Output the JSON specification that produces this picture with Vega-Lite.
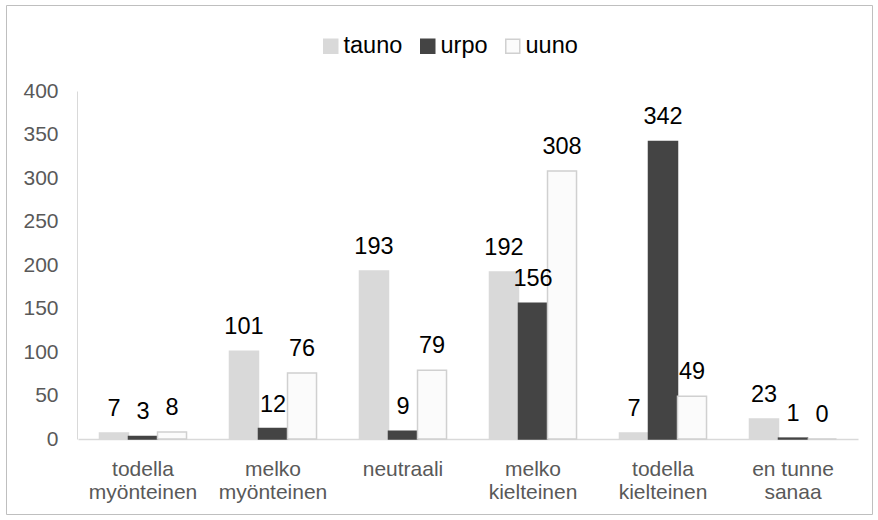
{
  "$schema": "https://vega.github.io/schema/vega-lite/v6.json",
  "width": 866,
  "height": 509,
  "autosize": {"type": "none"},
  "padding": {"left": 6, "top": 5, "right": 6, "bottom": 6},
  "background": "white",
  "config": {
    "font": "Liberation Sans",
    "view": {"stroke": "#bfbfbf", "strokeWidth": 1}
  },
  "data": {
    "values": [
      {"category": "todella myönteinen", "series": "tauno", "value": 7},
      {"category": "todella myönteinen", "series": "urpo", "value": 3},
      {"category": "todella myönteinen", "series": "uuno", "value": 8},
      {"category": "melko myönteinen", "series": "tauno", "value": 101},
      {"category": "melko myönteinen", "series": "urpo", "value": 12},
      {"category": "melko myönteinen", "series": "uuno", "value": 76},
      {"category": "neutraali", "series": "tauno", "value": 193},
      {"category": "neutraali", "series": "urpo", "value": 9},
      {"category": "neutraali", "series": "uuno", "value": 79},
      {"category": "melko kielteinen", "series": "tauno", "value": 192},
      {"category": "melko kielteinen", "series": "urpo", "value": 156},
      {"category": "melko kielteinen", "series": "uuno", "value": 308},
      {"category": "todella kielteinen", "series": "tauno", "value": 7},
      {"category": "todella kielteinen", "series": "urpo", "value": 342},
      {"category": "todella kielteinen", "series": "uuno", "value": 49},
      {"category": "en tunne sanaa", "series": "tauno", "value": 23},
      {"category": "en tunne sanaa", "series": "urpo", "value": 1},
      {"category": "en tunne sanaa", "series": "uuno", "value": 0}
    ]
  },
  "encoding": {
    "x": {
      "field": "category",
      "type": "nominal",
      "sort": ["todella myönteinen", "melko myönteinen", "neutraali", "melko kielteinen", "todella kielteinen", "en tunne sanaa"],
      "scale": {"range": [72, 852], "paddingInner": 0, "paddingOuter": 0},
      "axis": {
        "title": null,
        "orient": "bottom",
        "offset": -75,
        "labelAngle": 0,
        "labelFontSize": 21,
        "labelColor": "#595959",
        "labelLineHeight": 23,
        "labelPadding": 19,
        "ticks": false,
        "domainColor": "#d9d9d9",
        "domainWidth": 1.5,
        "labelExpr": "datum.label == 'en tunne sanaa' ? ['en tunne', 'sanaa'] : split(datum.label, ' ')"
      }
    },
    "xOffset": {
      "field": "series",
      "type": "nominal",
      "sort": ["tauno", "urpo", "uuno"],
      "scale": {"paddingInner": 0, "paddingOuter": 0.74}
    },
    "y": {
      "field": "value",
      "type": "quantitative",
      "scale": {"domain": [0, 400], "range": [434, 86], "nice": false},
      "axis": {
        "title": null,
        "offset": -71,
        "values": [0, 50, 100, 150, 200, 250, 300, 350, 400],
        "grid": false,
        "ticks": false,
        "labelFontSize": 21,
        "labelColor": "#595959",
        "labelPadding": 19,
        "domainColor": "#d9d9d9",
        "domainWidth": 1
      }
    }
  },
  "layer": [
    {
      "mark": {"type": "bar", "strokeWidth": 1.5},
      "encoding": {
        "fill": {
          "field": "series",
          "type": "nominal",
          "sort": ["tauno", "urpo", "uuno"],
          "scale": {"domain": ["tauno", "urpo", "uuno"], "range": ["#d9d9d9", "#444444", "#fbfbfb"]},
          "legend": {
            "title": null,
            "orient": "none",
            "direction": "horizontal",
            "legendX": 313,
            "legendY": 29,
            "symbolType": "square",
            "symbolSize": 196,
            "symbolStrokeWidth": 1.5,
            "labelFontSize": 23.5,
            "labelColor": "#000000",
            "labelOffset": 1,
            "columnPadding": 13
          }
        },
        "stroke": {
          "field": "series",
          "type": "nominal",
          "sort": ["tauno", "urpo", "uuno"],
          "scale": {"domain": ["tauno", "urpo", "uuno"], "range": ["#d9d9d9", "#444444", "#d0d0d0"]},
          "legend": {
            "title": null,
            "orient": "none",
            "direction": "horizontal",
            "legendX": 313,
            "legendY": 29,
            "symbolType": "square",
            "symbolSize": 196,
            "symbolStrokeWidth": 1.5,
            "labelFontSize": 23.5,
            "labelColor": "#000000",
            "labelOffset": 1,
            "columnPadding": 13
          }
        }
      }
    },
    {
      "mark": {"type": "text", "baseline": "alphabetic", "dy": -17, "fontSize": 23.5, "color": "#000000"},
      "encoding": {
        "text": {"field": "value", "type": "quantitative"}
      }
    }
  ]
}
